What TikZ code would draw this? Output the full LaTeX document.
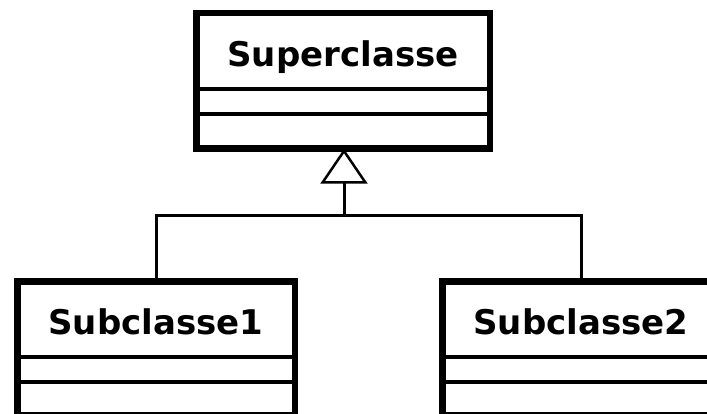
\documentclass[tikz,border=0pt]{standalone}
\usepackage{fontspec}
\setmainfont{DejaVu Sans}
\usetikzlibrary{arrows.meta,calc}
\begin{document}
\begin{tikzpicture}[x=1pt,y=-1pt,
  classbox/.style={draw=black, line width=6.5pt, fill=white, inner sep=0pt,
                   outer sep=0pt, anchor=north},
  divider/.style={draw=black, line width=3.5pt},
  classname/.style={font=\bfseries\fontsize{34}{34}\selectfont, anchor=base, inner sep=0pt},
  conn/.style={draw=black, line width=3pt},
  inherit/.style={conn, -{Triangle[open, length=35pt, width=47pt, line width=2.5pt]}}]
\useasboundingbox (0,0) rectangle (707,414);
\clip (0,0) rectangle (707,414);
\fill[white] (0,0) rectangle (707,414);

% class boxes
\node[classbox, minimum width=293.5pt, minimum height=135.5pt] (sup) at (343,13.25) {};
\node[classbox, minimum width=277.5pt, minimum height=134pt] (sub1) at (156,281.25) {};
\node[classbox, minimum width=277.5pt, minimum height=134pt] (sub2) at (581,281.25) {};

% compartments and names
\foreach \c/\t in {sup/Superclasse, sub1/Subclasse1, sub2/Subclasse2}{
  \draw[divider] ($(\c.north west)+(0,75.75)$) -- ($(\c.north east)+(0,75.75)$);
  \draw[divider] ($(\c.north west)+(0,100.75)$) -- ($(\c.north east)+(0,100.75)$);
  \node[classname] (\c name) at ($(\c.north)+(0,53)$) {\t};
}

% generalisation
\coordinate (join) at (344,215.5);
\draw[conn] (sub1.north) |- (join) -| (sub2.north);
\draw[inherit] (join) -- (sup.south -| join);
\end{tikzpicture}
\end{document}
